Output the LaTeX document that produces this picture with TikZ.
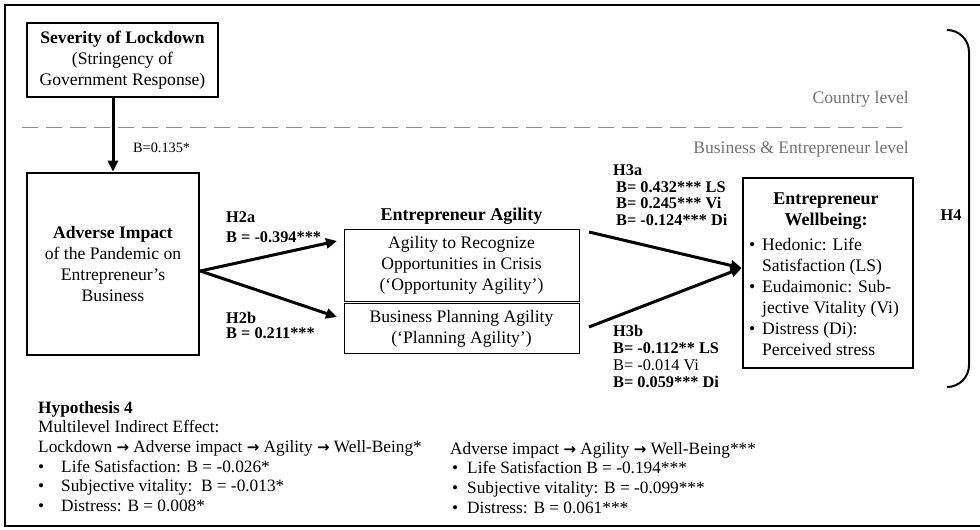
\documentclass[tikz,border=0pt]{standalone}
\usepackage{fontspec}
\setmainfont{Liberation Serif}
\newfontfamily\arrowfont{DejaVu Sans}
\usetikzlibrary{positioning,arrows.meta}

\newcommand{\thinarrow}{{\arrowfont\bfseries\fontsize{15}{15}\selectfont →}}
\newcommand{\itembullet}[1]{\makebox[#1][l]{•}}

\begin{document}
\begin{tikzpicture}[
    x=1pt, y=-1pt,
    textnode/.style={inner sep=0pt, font=\fontsize{17.6}{21}\selectfont},
    heavybox/.style={textnode, draw, line width=2.6pt, align=center},
    lightbox/.style={textnode, draw, line width=0.8pt, align=center},
    effect/.style={inner sep=0pt, align=left, anchor=north west,
      font=\fontsize{16.3}{#1}\selectfont\bfseries},
    effect/.default=16.5,
    levelnote/.style={textnode, text=black!55, anchor=east},
    effectarrow/.style={-{Triangle[length=11pt,width=10pt]}, line width=3pt}
  ]
  \useasboundingbox (0,0) rectangle (980,530);

  %% Frame and levels
  \draw[line width=1.5pt] (980,5) -- (5,5) -- (5,526) -- (980,526);
  \draw[black!45, line width=1pt, dash pattern=on 16pt off 8pt] (22,127) -- (903,127);
  \node[levelnote] (lvl-country) at (909,99) {Country level};
  \node[levelnote] (lvl-business) at (909,149) {Business \& Entrepreneur level};

  %% Constructs
  \node[heavybox, minimum width=191pt, minimum height=74pt] (sev-box) at (122.5,60)
    {\textbf{Severity of Lockdown}\\(Stringency of\\Government Response)};
  \node[heavybox, minimum width=172pt, minimum height=182pt] (adv-box) at (113,264)
    {\textbf{Adverse Impact}\\of the Pandemic on\\Entrepreneur’s\\Business};
  \node[lightbox, minimum width=235pt, minimum height=72pt] (agil-opp) at (461.5,265)
    {Agility to Recognize\\Opportunities in Crisis\\(‘Opportunity Agility’)};
  \node[lightbox, minimum width=235pt, minimum height=50pt, below=2pt of agil-opp] (agil-plan)
    {Business Planning Agility\\(‘Planning Agility’)};
  \node[textnode, font=\fontsize{18}{21}\selectfont\bfseries, above=4pt of agil-opp] (agil-title)
    {Entrepreneur Agility};
  \node[heavybox, minimum width=170pt, minimum height=190pt] (wb-box) at (828,273) {};
  \node[textnode, font=\fontsize{18}{21}\selectfont\bfseries, align=center] (wb-title) at (826,211)
    {Entrepreneur\\Wellbeing:};
  \node[textnode, align=left, anchor=north west] (wb-list) at (749,238)
    {\itembullet{13pt}Hedonic: Life\\
     \hspace*{13pt}Satisfaction (LS)\\
     \itembullet{13pt}Eudaimonic: Sub-\\
     \hspace*{13pt}jective Vitality (Vi)\\
     \itembullet{13pt}Distress (Di):\\
     \hspace*{13pt}Perceived stress};

  %% Paths
  \coordinate (adv-out) at ([yshift=-7pt]adv-box.east);
  \coordinate (opp-in) at (337,241);
  \coordinate (plan-in) at (337,317);
  \coordinate (opp-out) at (589,232);
  \coordinate (plan-out) at (589,327);
  \coordinate (wb-in) at ([yshift=5pt]wb-box.west);
  \draw[effectarrow] (sev-box.south -| adv-box.north) -- (adv-box.north);
  \draw[effectarrow] (adv-out) -- (opp-in);
  \draw[effectarrow] (adv-out) -- (plan-in);
  \draw[effectarrow] (opp-out) -- (wb-in);
  \draw[effectarrow] (plan-out) -- (wb-in);

  %% Coefficients
  \node[textnode, font=\fontsize{14.3}{16}\selectfont, anchor=west] (lbl-h1) at (133,148) {B=0.135*};
  \node[effect=20] (lbl-h2a) at (226,212) {H2a\\B = -0.394***};
  \node[effect=15] (lbl-h2b) at (226,312) {H2b\\B = 0.211***};
  \node[effect] (lbl-h3a) at (613,165)
    {H3a\\\hspace*{3pt}B= 0.432*** LS\\\hspace*{3pt}B= 0.245*** Vi\\\hspace*{3pt}B= -0.124*** Di};
  \node[effect=17] (lbl-h3b) at (613,325)
    {H3b\\B= -0.112** LS\\{\mdseries B= -0.014 Vi}\\B= 0.059*** Di};

  %% Hypothesis 4
  \draw[line width=2pt, rounded corners=22pt] (947,30) -| (969,387) -- (947,387);
  \node[textnode, font=\fontsize{16.3}{18}\selectfont\bfseries] (lbl-h4) at (951,215) {H4};
  \node[textnode, font=\fontsize{17.3}{19.6}\selectfont, align=left, anchor=north west] (hyp-left) at (38,401)
    {\textbf{Hypothesis 4}\\
     Multilevel Indirect Effect:\\
     Lockdown \thinarrow{} Adverse impact \thinarrow{} Agility \thinarrow{} Well-Being*\\
     \itembullet{23pt}Life Satisfaction: B = -0.026*\\
     \itembullet{23pt}Subjective vitality:\ \ B = -0.013*\\
     \itembullet{23pt}Distress: B = 0.008*};
  \node[textnode, font=\fontsize{17.3}{19.6}\selectfont, align=left, anchor=north west] (hyp-right) at (450,442)
    {Adverse impact \thinarrow{} Agility \thinarrow{} Well-Being***\\
     \hspace*{2pt}\itembullet{15pt}Life Satisfaction B = -0.194***\\
     \hspace*{2pt}\itembullet{15pt}Subjective vitality: B = -0.099***\\
     \hspace*{2pt}\itembullet{15pt}Distress: B = 0.061***};
\end{tikzpicture}
\end{document}
